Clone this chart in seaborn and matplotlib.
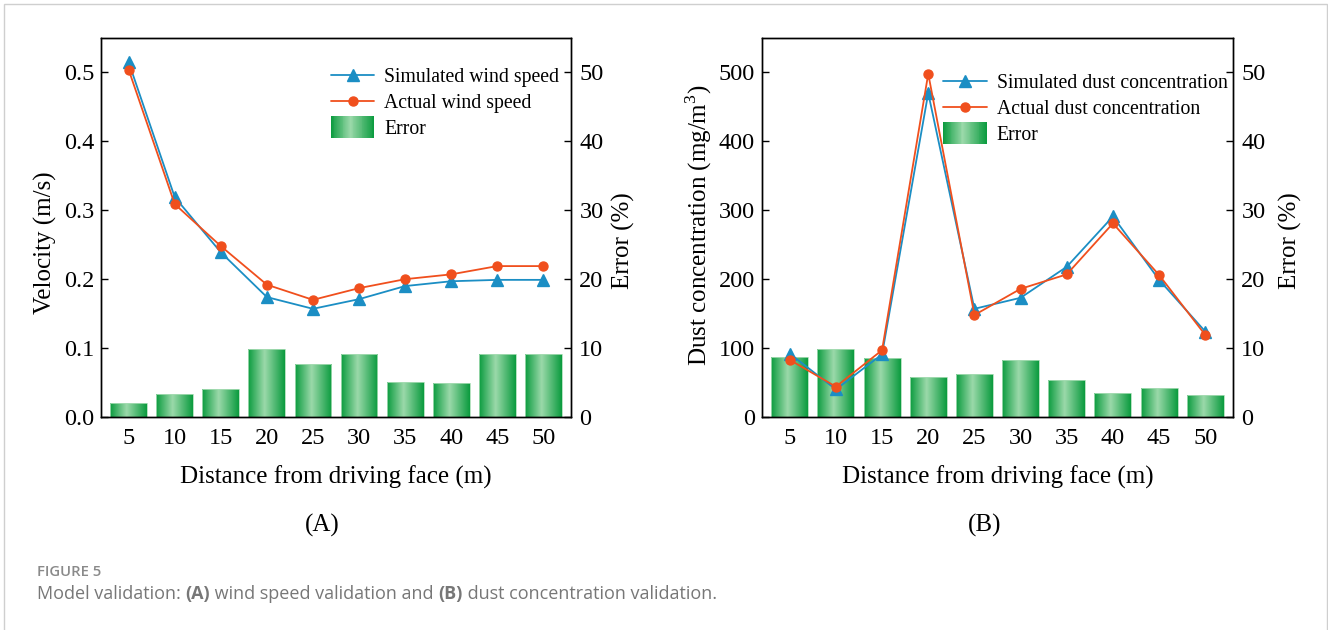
import numpy as np
import matplotlib
matplotlib.use("Agg")
import matplotlib.pyplot as plt
import seaborn as sns
from matplotlib.colors import LinearSegmentedColormap
from matplotlib.lines import Line2D
from matplotlib.patches import Rectangle
from matplotlib.legend_handler import HandlerBase

# ---- data -------------------------------------------------------------
distance = [5, 10, 15, 20, 25, 30, 35, 40, 45, 50]

wind_simulated = [0.515, 0.319, 0.239, 0.174, 0.157, 0.171, 0.190, 0.197, 0.199, 0.199]
wind_actual = [0.504, 0.309, 0.248, 0.192, 0.170, 0.187, 0.200, 0.207, 0.219, 0.219]
wind_error = [2.0, 3.3, 4.1, 9.9, 7.7, 9.2, 5.1, 4.9, 9.2, 9.2]

dust_simulated = [92, 40, 91, 470, 157, 173, 218, 291, 199, 124]
dust_actual = [83, 44, 97, 498, 148, 186, 207, 281, 206, 119]
dust_error = [8.7, 9.8, 8.6, 5.8, 6.3, 8.2, 5.4, 3.5, 4.2, 3.2]

# ---- style ------------------------------------------------------------
BLUE = "#1b8ec4"
ORANGE = "#f04f1d"
GREEN_DARK = "#0a9b3e"
GREEN_LIGHT = "#9bd9aa"
green_cmap = LinearSegmentedColormap.from_list(
    "bar_green", [(0.0, GREEN_DARK), (0.45, GREEN_LIGHT), (1.0, GREEN_DARK)])

sns.set_theme(style="ticks")
plt.rcParams["font.family"] = ["Liberation Serif", "DejaVu Serif"]
plt.rcParams["mathtext.fontset"] = "custom"
plt.rcParams["mathtext.rm"] = "Liberation Serif"
plt.rcParams["axes.edgecolor"] = "black"
plt.rcParams["axes.linewidth"] = 1.0
plt.rcParams["xtick.color"] = "black"
plt.rcParams["ytick.color"] = "black"
plt.rcParams["text.color"] = "black"
plt.rcParams["axes.labelcolor"] = "black"

TICK_FS = 17.5
LABEL_FS = 18
LEGEND_FS = 14.2


class GradientHandler(HandlerBase):
    """Legend key drawn as a horizontally shaded green block."""

    def create_artists(self, legend, orig_handle, xdescent, ydescent,
                       width, height, fontsize, trans):
        n = 48
        h = height * 1.6
        y0 = -ydescent + (height - h) / 2
        arts = []
        for i in range(n):
            r = Rectangle((-xdescent + width * i / n, y0), width / n * 1.05, h,
                          facecolor=green_cmap((i + 0.5) / n), edgecolor="none",
                          transform=trans)
            arts.append(r)
        return arts


def shade_bars(ax, container):
    grad = np.linspace(0, 1, 256).reshape(1, -1)
    for p in container.patches:
        x, y = p.get_x(), p.get_y()
        w, h = p.get_width(), p.get_height()
        im = ax.imshow(grad, cmap=green_cmap, aspect="auto",
                       extent=(x, x + w, y, y + h), interpolation="bilinear",
                       zorder=p.get_zorder())
        im.set_clip_path(p)
        p.set_facecolor("none")
        p.set_edgecolor("#a8ddb5")
        p.set_linewidth(0.6)
        p.set_zorder(p.get_zorder() + 0.1)


def panel(ax, simulated, actual, error, ymax, yticks, yfmt, ylabel,
          sim_label, act_label, legend_anchor, label_x, err_label_x, label_y):
    axb = ax.twinx()
    sns.barplot(x=distance, y=error, ax=axb, color=GREEN_DARK,
                width=0.8, errorbar=None, zorder=2)
    shade_bars(axb, axb.containers[0])

    sns.pointplot(x=distance, y=simulated, ax=ax, color=BLUE, markers="^",
                  linestyles="-", errorbar=None, markersize=8, linewidth=1.3)
    sns.pointplot(x=distance, y=actual, ax=ax, color=ORANGE, markers="o",
                  linestyles="-", errorbar=None, markersize=6.5, linewidth=1.3)

    ax.set_zorder(axb.get_zorder() + 1)
    ax.patch.set_visible(False)

    for a in (ax, axb):
        a.set_xlim(-0.6, len(distance) - 0.4)
        a.grid(False)
        for s in a.spines.values():
            s.set_visible(True)
            s.set_linewidth(1.0)
            s.set_color("black")

    ax.set_ylim(0, ymax)
    ax.set_yticks(yticks)
    ax.set_yticklabels([yfmt.format(v) for v in yticks])
    axb.set_ylim(0, 55)
    axb.set_yticks([0, 10, 20, 30, 40, 50])

    ax.tick_params(axis="y", direction="in", length=5, width=1.0,
                   labelsize=TICK_FS, pad=5, right=False)
    axb.tick_params(axis="y", direction="in", length=5, width=1.0,
                    labelsize=TICK_FS, pad=6, left=False)
    ax.tick_params(axis="x", length=0, labelsize=TICK_FS, pad=8)
    axb.tick_params(axis="x", length=0)

    ax.set_xlabel("Distance from driving face (m)", fontsize=LABEL_FS, labelpad=12)
    ax.set_ylabel(ylabel, fontsize=LABEL_FS)
    axb.set_ylabel("Error (%)", fontsize=LABEL_FS)
    ax.yaxis.label.set_verticalalignment("center")
    axb.yaxis.label.set_verticalalignment("center")
    ax.yaxis.set_label_coords(label_x, label_y)
    axb.yaxis.set_label_coords(err_label_x, 0.465)

    handles = [
        Line2D([], [], color=BLUE, marker="^", markersize=8, linewidth=1.3),
        Line2D([], [], color=ORANGE, marker="o", markersize=6.5, linewidth=1.3),
        Rectangle((0, 0), 1, 1),
    ]
    ax.legend(handles, [sim_label, act_label, "Error"],
              handler_map={Rectangle: GradientHandler()},
              loc="upper left", bbox_to_anchor=legend_anchor,
              frameon=False, fontsize=LEGEND_FS, handlelength=2.2,
              handletextpad=0.5, labelspacing=0.36, borderpad=0,
              borderaxespad=0)


W, H = 1328, 630
fig = plt.figure(figsize=(W / 100, H / 100), dpi=100)
ax_a = fig.add_axes([101 / W, 1 - 417 / H, 470 / W, 379 / H])
ax_b = fig.add_axes([762 / W, 1 - 417 / H, 471 / W, 379 / H])

panel(ax_a, wind_simulated, wind_actual, wind_error, 0.55,
      [0.0, 0.1, 0.2, 0.3, 0.4, 0.5], "{:.1f}", "Velocity (m/s)",
      "Simulated wind speed", "Actual wind speed", (0.489, 0.921),
      -0.119, 1.111, 0.46)
panel(ax_b, dust_simulated, dust_actual, dust_error, 550,
      [0, 100, 200, 300, 400, 500], "{:d}", "Dust concentration (mg/m$^3$)",
      "Simulated dust concentration", "Actual dust concentration", (0.385, 0.906),
      -0.134, 1.121, 0.505)

# panel tags
fig.text(322 / W, 1 - 525 / H, "(A)", fontsize=LABEL_FS, ha="center", va="center")
fig.text(985 / W, 1 - 525 / H, "(B)", fontsize=LABEL_FS, ha="center", va="center")

# caption
CAP_GREY = "#777777"
fig.text(37 / W, 1 - 572 / H, "FIGURE 5", fontsize=10.7, color="#8a8a8a",
         family="Open Sans", weight="semibold", va="center")
pieces = [("Model validation: ", "normal"), ("(A)", "bold"),
          (" wind speed validation and ", "normal"), ("(B)", "bold"),
          (" dust concentration validation.", "normal")]
renderer = fig.canvas.get_renderer()
x = 37 / W
for txt, wt in pieces:
    t = fig.text(x, 1 - 594 / H, txt, fontsize=13, color=CAP_GREY,
                 family="Open Sans", weight=wt, va="center")
    bb = t.get_window_extent(renderer)
    x = bb.x1 / fig.bbox.width

# outer frame of the figure panel
fig.add_artist(Rectangle((4 / W, -0.05), 1322.5 / W, 1 - 4 / H + 0.05,
                         transform=fig.transFigure, fill=False,
                         edgecolor="#cfcfcf", linewidth=1.0))

fig.savefig("out.png", dpi=100)
